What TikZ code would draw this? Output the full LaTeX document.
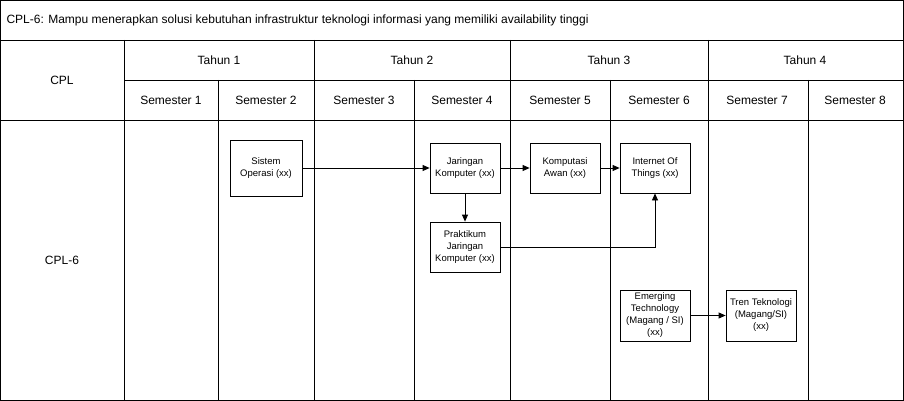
\documentclass[tikz,border=0pt]{standalone}
\usepackage{fontspec}
\setmainfont{Liberation Sans}
\usetikzlibrary{arrows.meta}
\begin{document}
\begin{tikzpicture}[x=1pt,y=-1pt,
  grid/.style={draw=black,line width=0.8pt},
  hdr/.style={font=\fontsize{12}{14}\selectfont},
  box/.style={draw=black,line width=0.8pt,align=center,inner sep=0pt,font=\fontsize{9.5}{12}\selectfont},
  arr/.style={-{Triangle[length=7pt,width=6pt]},line width=0.8pt}]
\useasboundingbox (0,0) rectangle (904,401);
\draw[grid] (0.5,0.5) rectangle (903,400);
\draw[grid] (0.5,40) -- (903,40);
\draw[grid] (124,80) -- (903,80);
\draw[grid] (0.5,120) -- (903,120);
\draw[grid] (124,40) -- (124,400);
\foreach \x in {314,510,708} \draw[grid] (\x,40) -- (\x,400);
\foreach \x in {218,414,610,808} \draw[grid] (\x,80) -- (\x,400);
\node[hdr,anchor=west] (title) at (3,20) {CPL-6: Mampu menerapkan solusi kebutuhan infrastruktur teknologi informasi yang memiliki availability tinggi};
\node[hdr] (cpl) at (62,80) {CPL};
\node[hdr] (cpl6) at (62,260) {CPL-6};
\node[hdr] (t1) at (219,60) {Tahun 1};
\node[hdr] (t2) at (412,60) {Tahun 2};
\node[hdr] (t3) at (609,60) {Tahun 3};
\node[hdr] (t4) at (805,60) {Tahun 4};
\node[hdr] (s1) at (171,100) {Semester 1};
\node[hdr] (s2) at (266,100) {Semester 2};
\node[hdr] (s3) at (364,100) {Semester 3};
\node[hdr] (s4) at (462,100) {Semester 4};
\node[hdr] (s5) at (560,100) {Semester 5};
\node[hdr] (s6) at (659,100) {Semester 6};
\node[hdr] (s7) at (757,100) {Semester 7};
\node[hdr] (s8) at (855,100) {Semester 8};
\node[box,minimum width=72pt,minimum height=56pt] (so) at (266,168) {Sistem\\Operasi (xx)};
\node[box,minimum width=70pt,minimum height=50pt] (jk) at (465,168) {Jaringan\\Komputer (xx)};
\node[box,minimum width=70pt,minimum height=50pt] (ka) at (565,168) {Komputasi\\Awan (xx)};
\node[box,minimum width=70pt,minimum height=50pt] (iot) at (655,168) {Internet Of\\Things (xx)};
\node[box,minimum width=70pt,minimum height=50pt] (pjk) at (465,247) {Praktikum\\Jaringan\\Komputer (xx)};
\node[box,minimum width=70pt,minimum height=51pt] (et) at (655,315.5) {Emerging\\Technology\\(Magang / SI)\\(xx)};
\node[box,minimum width=70pt,minimum height=51pt] (tt) at (761,315.5) {Tren Teknologi\\(Magang/SI)\\(xx)};
\draw[arr] (so) -- (jk);
\draw[arr] (jk) -- (ka);
\draw[arr] (ka) -- (iot);
\draw[arr] (jk) -- (pjk);
\draw[arr] (pjk.east) -| (iot.south);
\draw[arr] (et) -- (tt);
\end{tikzpicture}
\end{document}
